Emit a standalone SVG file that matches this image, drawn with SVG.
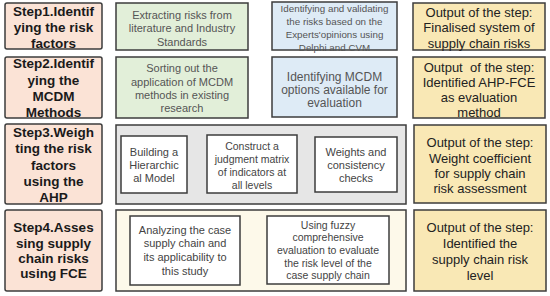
<svg xmlns="http://www.w3.org/2000/svg" width="550" height="296" viewBox="0 0 550 296">
<style>
rect{stroke:#3c3c3c;stroke-width:1.5}
.step rect{fill:#fbe3d6}
.green rect{fill:#e2efd9}
.blue rect{fill:#deebf6}
.out rect{fill:#f9e8b5}
.gray{fill:#e6e6e6}
.cream{fill:#fdf9ea}
.inner rect{fill:#ffffff}
text{font-family:"Liberation Sans",Arial,sans-serif;text-anchor:middle}
.st{font-size:13.5px;font-weight:bold;fill:#1a1a1a}
.g{font-size:11px;fill:#555555}
.b1{font-size:9.8px;fill:#555555}
.b2{font-size:12px;fill:#555555}
.o{font-size:13px;fill:#222222;white-space:pre}
.i{font-size:11px;fill:#444444}
.is{font-size:10.5px;fill:#444444}
</style>
<g id="step1" class="step"><rect x="5" y="3" width="97" height="46" rx="2"/>
<text class="st" x="53.5" y="16">Step1.Identif</text><text class="st" x="53.5" y="32">ying the risk</text><text class="st" x="53.5" y="48">factors</text></g>
<g id="step2" class="step"><rect x="5" y="57" width="97" height="61" rx="2"/>
<text class="st" x="53.5" y="68">Step2.Identif</text><text class="st" x="53.5" y="84.5">ying the</text><text class="st" x="53.5" y="101">MCDM</text><text class="st" x="53.5" y="117">Methods</text></g>
<g id="step3" class="step"><rect x="5" y="124" width="97" height="80" rx="2"/>
<text class="st" x="53.5" y="137">Step3.Weigh</text><text class="st" x="53.5" y="153">ting the risk</text><text class="st" x="53.5" y="170">factors</text><text class="st" x="53.5" y="186">using the</text><text class="st" x="53.5" y="202">AHP</text></g>
<g id="step4" class="step"><rect x="5" y="210" width="97" height="81" rx="2"/>
<text class="st" x="53.5" y="232">Step4.Asses</text><text class="st" x="53.5" y="248">sing supply</text><text class="st" x="53.5" y="263">chain risks</text><text class="st" x="53.5" y="278">using FCE</text></g>

<g id="extract" class="green"><rect x="116" y="3" width="132" height="47"/>
<text class="g" x="182" y="19">Extracting risks from</text><text class="g" x="182" y="32">literature and Industry</text><text class="g" x="182" y="46">Standards</text></g>
<g id="sorting" class="green"><rect x="116" y="57" width="132" height="61"/>
<text class="g" x="182" y="72">Sorting out the</text><text class="g" x="182" y="86">application of MCDM</text><text class="g" x="182" y="99">methods in existing</text><text class="g" x="182" y="112">research</text></g>

<g id="validate" class="blue"><rect x="272" y="2" width="125" height="48"/>
<text class="b1" x="334.5" y="11.5">Identifying and validating</text><text class="b1" x="334.5" y="24.5">the risks based on the</text><text class="b1" x="334.5" y="37.5">Experts'opinions using</text><text class="b1" x="334.5" y="50.5">Delphi and CVM</text></g>
<g id="options" class="blue"><rect x="272" y="57" width="125" height="60"/>
<text class="b2" x="334.5" y="81">Identifying MCDM</text><text class="b2" x="334.5" y="94">options available for</text><text class="b2" x="334.5" y="107">evaluation</text></g>

<g id="ahp">
<rect class="gray" x="116" y="125" width="290" height="79"/>
<g id="hier" class="inner"><rect x="121" y="136" width="66" height="57"/>
<text class="i" x="154" y="156">Building a</text><text class="i" x="154" y="169">Hierarchic</text><text class="i" x="154" y="182">al Model</text></g>
<g id="matrix" class="inner"><rect x="207" y="135" width="90" height="58"/>
<text class="is" x="252" y="149.7">Construct a</text><text class="is" x="252" y="162.7">judgment matrix</text><text class="is" x="252" y="175.7">of indicators at</text><text class="is" x="252" y="188.7">all levels</text></g>
<g id="weights" class="inner"><rect x="315" y="137" width="82" height="55"/>
<text class="i" x="356" y="156">Weights and</text><text class="i" x="356" y="169">consistency</text><text class="i" x="356" y="182">checks</text></g>
</g>

<g id="fce">
<rect class="cream" x="116" y="210" width="290" height="81"/>
<g id="analyze" class="inner"><rect x="130" y="216" width="110" height="69"/>
<text class="i" x="185" y="234">Analyzing the case</text><text class="i" x="185" y="247">supply chain and</text><text class="i" x="185" y="261">its applicability to</text><text class="i" x="185" y="275">this study</text></g>
<g id="fuzzy" class="inner"><rect x="267" y="216" width="122" height="68"/>
<text class="is" x="328" y="228.7">Using fuzzy</text><text class="is" x="328" y="241.3">comprehensive</text><text class="is" x="328" y="254">evaluation to evaluate</text><text class="is" x="328" y="266.7">the risk level of the</text><text class="is" x="328" y="279.4">case supply chain</text></g>
</g>

<g id="out1" class="out"><rect x="413" y="3" width="132" height="47"/>
<text class="o" x="479" y="16.5">Output of the step:</text><text class="o" x="479" y="31.5">Finalised system of</text><text class="o" x="479" y="47.5">supply chain risks</text></g>
<g id="out2" class="out"><rect x="413" y="57" width="132" height="61"/>
<text class="o" x="479" y="71.6">Output  of the step:</text><text class="o" x="479" y="86.6">Identified AHP-FCE</text><text class="o" x="479" y="101.6">as evaluation</text><text class="o" x="479" y="116.6">method</text></g>
<g id="out3" class="out"><rect x="414" y="125" width="132" height="78"/>
<text class="o" x="480" y="146.6">Output of the step:</text><text class="o" x="480" y="162.6">Weight coefficient</text><text class="o" x="480" y="177.6">for supply chain</text><text class="o" x="480" y="192.6">risk assessment</text></g>
<g id="out4" class="out"><rect x="414" y="210" width="132" height="81"/>
<text class="o" x="480" y="231.6">Output of the step:</text><text class="o" x="480" y="247.6">Identified the</text><text class="o" x="480" y="263.6">supply chain risk</text><text class="o" x="480" y="279.6">level</text></g>
<g id="connectors"></g>
</svg>
